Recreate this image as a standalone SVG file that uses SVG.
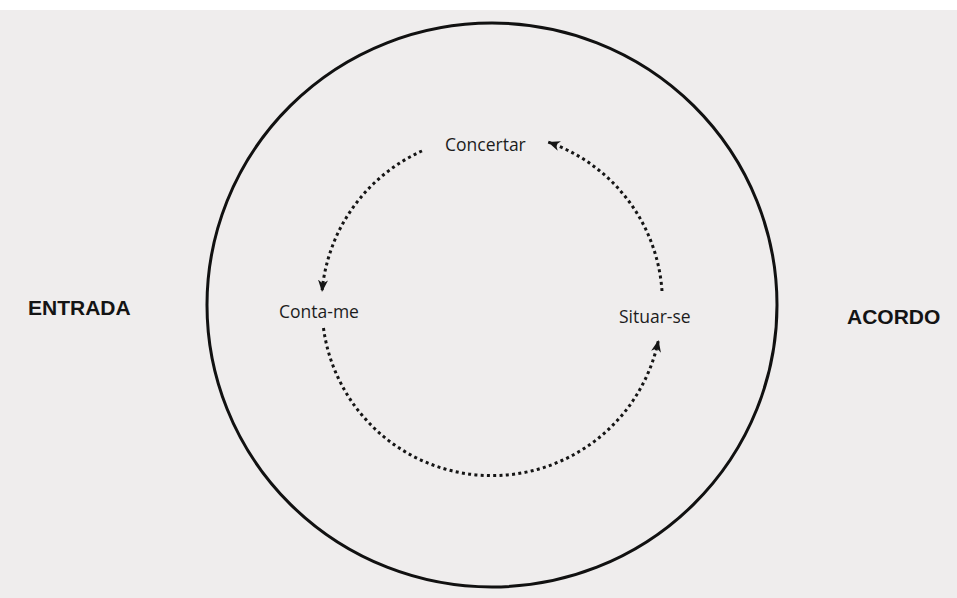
<svg xmlns="http://www.w3.org/2000/svg" width="957" height="598" viewBox="0 0 957 598">
  <style>
    .big { font-family: "Liberation Sans", Arial, sans-serif; font-weight: bold; font-size: 21px; fill: #141414; }
    .lbl { font-family: "Open Sans", "Liberation Sans", sans-serif; font-size: 17.5px; fill: #1c1c1c; }
    .dots { fill: none; stroke: #151515; stroke-width: 3; stroke-dasharray: 3 3.3; marker-end: url(#arr); }
  </style>
  <defs>
    <marker id="arr" markerUnits="userSpaceOnUse" markerWidth="14" markerHeight="12" refX="12" refY="5" orient="auto" viewBox="0 0 14 12">
      <path d="M0,0 L12,5 L0,10 L3.5,5 z" fill="#151515"/>
    </marker>
  </defs>
  <rect x="0" y="0" width="957" height="598" fill="#ffffff"/>
  <rect x="0" y="10" width="957" height="588" fill="#efeded"/>
  <g id="circle">
    <ellipse cx="492" cy="305" rx="285" ry="282" fill="none" stroke="#111" stroke-width="3"/>
  </g>
  <g id="entrada"><text class="big" x="28" y="315">ENTRADA</text></g>
  <g id="acordo"><text class="big" x="847" y="324">ACORDO</text></g>
  <g id="concertar"><text class="lbl" x="445" y="151">Concertar</text></g>
  <g id="conta-me"><text class="lbl" x="279" y="318">Conta-me</text></g>
  <g id="situar-se"><text class="lbl" x="619" y="323">Situar-se</text></g>
  <g id="connectors">
    <path class="dots" d="M 422 151 A 170 170 0 0 0 322 292"/>
    <path class="dots" d="M 323.5 328 A 170 170 0 0 0 658.5 340"/>
    <path class="dots" d="M 662 291 A 170 170 0 0 0 548 142"/>
  </g>
</svg>
